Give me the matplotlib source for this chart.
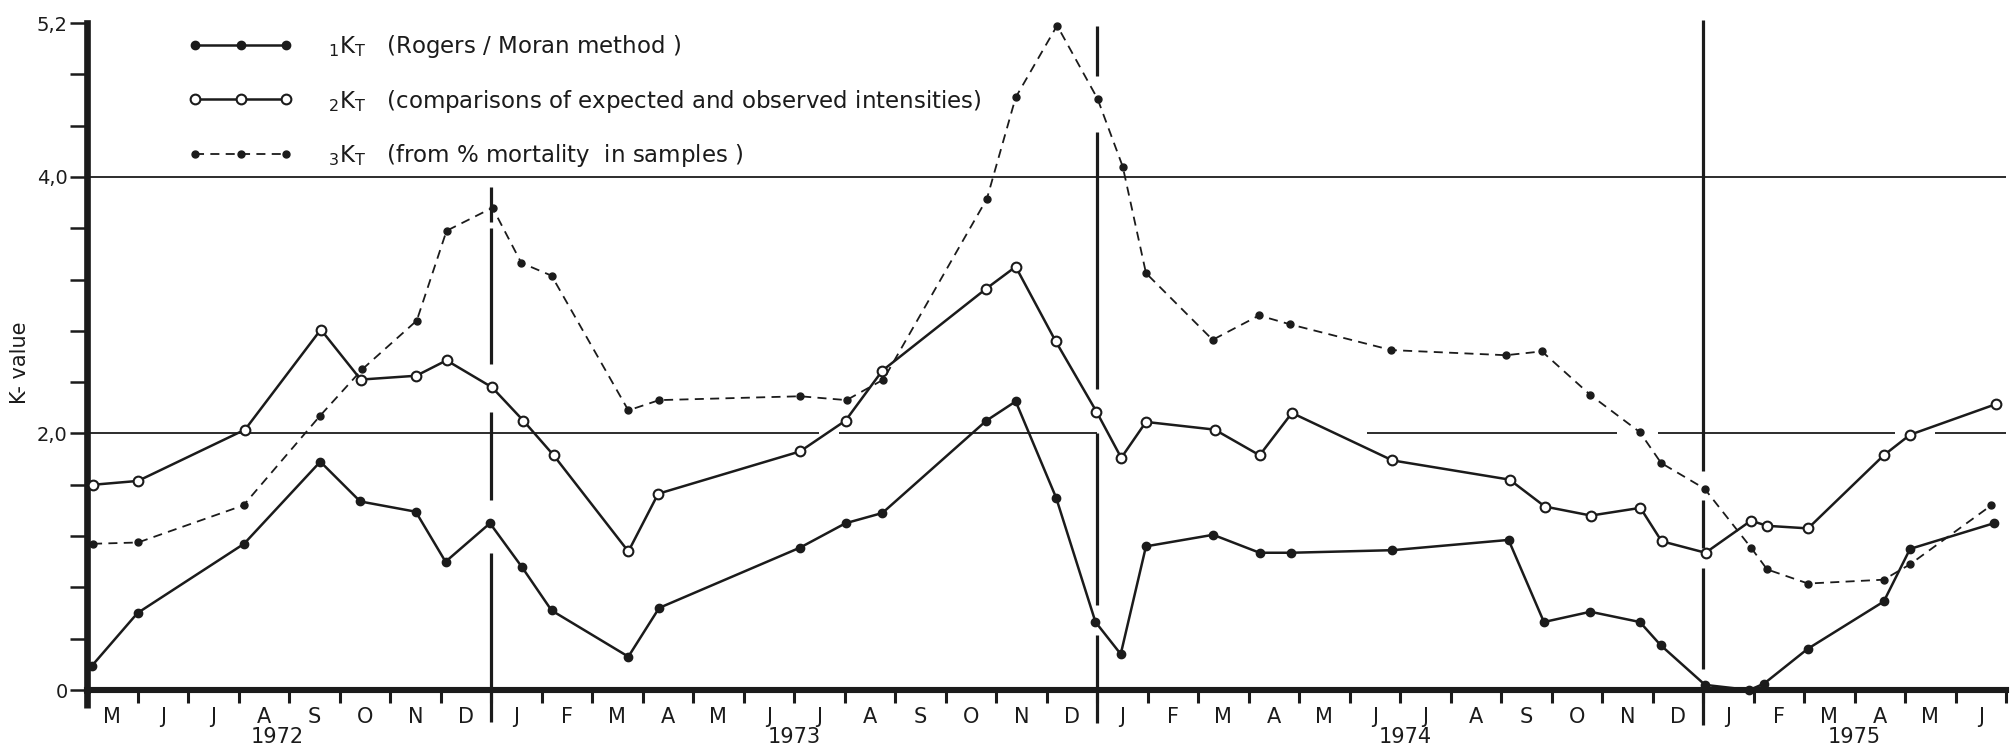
import numpy as np
import matplotlib
matplotlib.use("Agg")
import matplotlib.pyplot as plt

INK = "#1b1b1b"

# x = months counted from 1 May 1972 (0) to the end of June 1975 (38)
# 1K_T  (Rogers / Moran method), filled dots, solid line
k1_month = [0.10, 1.00, 3.11, 4.62, 5.41, 6.51, 7.10, 7.98, 8.61, 9.20, 10.72, 11.33,
            14.12, 15.02, 15.75, 17.81, 18.39, 19.19, 19.97, 20.47, 20.97, 22.30,
            23.22, 23.85, 25.85, 28.15, 28.85, 29.77, 30.75, 31.16, 32.04, 32.92,
            33.21, 34.07, 35.58, 36.10, 37.76]
k1_value = [0.19, 0.60, 1.14, 1.78, 1.47, 1.39, 1.00, 1.30, 0.96, 0.62, 0.26, 0.64,
            1.11, 1.30, 1.38, 2.10, 2.25, 1.50, 0.53, 0.28, 1.12, 1.21,
            1.07, 1.07, 1.09, 1.17, 0.53, 0.61, 0.53, 0.35, 0.04, 0.00,
            0.05, 0.32, 0.69, 1.10, 1.30]

# 2K_T  (comparisons of expected and observed intensities), open circles
k2_month = [0.12, 1.01, 3.13, 4.63, 5.42, 6.52, 7.12, 8.02, 8.64, 9.24, 10.72, 11.31,
            14.12, 15.02, 15.75, 17.81, 18.39, 19.18, 19.99, 20.48, 20.97, 22.33,
            23.22, 23.86, 25.85, 28.17, 28.87, 29.78, 30.76, 31.18, 32.05, 32.95,
            33.27, 34.08, 35.58, 36.10, 37.81]
k2_value = [1.60, 1.63, 2.03, 2.81, 2.42, 2.45, 2.57, 2.36, 2.10, 1.83, 1.08, 1.53,
            1.86, 2.10, 2.49, 3.13, 3.30, 2.72, 2.17, 1.81, 2.09, 2.03,
            1.83, 2.16, 1.79, 1.64, 1.43, 1.36, 1.42, 1.16, 1.07, 1.32,
            1.28, 1.26, 1.83, 1.99, 2.23]

# 3K_T  (from % mortality in samples), small dots, dashed line
k3_month = [0.12, 1.01, 3.10, 4.62, 5.45, 6.53, 7.12, 8.03, 8.60, 9.20, 10.72, 11.33,
            14.12, 15.04, 15.77, 17.82, 18.39, 19.21, 20.01, 20.51, 20.97, 22.29,
            23.21, 23.83, 25.83, 28.10, 28.81, 29.77, 30.75, 31.17, 32.03, 32.95,
            33.27, 34.08, 35.58, 36.10, 37.71]
k3_value = [1.14, 1.15, 1.44, 2.14, 2.50, 2.88, 3.58, 3.76, 3.33, 3.23, 2.18, 2.26,
            2.29, 2.26, 2.42, 3.83, 4.62, 5.18, 4.61, 4.08, 3.25, 2.73,
            2.92, 2.85, 2.65, 2.61, 2.64, 2.30, 2.01, 1.77, 1.57, 1.11,
            0.94, 0.83, 0.86, 0.98, 1.44]

month_letters = (["M", "J", "J", "A", "S", "O", "N", "D"]
                 + ["J", "F", "M", "A", "M", "J", "J", "A", "S", "O", "N", "D"] * 2
                 + ["J", "F", "M", "A", "M", "J"])
year_labels = ["1972", "1973", "1974", "1975"]
year_label_pos = [3.76, 14.0, 26.1, 35.0]
year_bounds = [8, 20, 32]

y_ticks = np.round(np.arange(0, 5.21, 0.4), 1)
y_tick_text = {0.0: "0", 2.0: "2,0", 4.0: "4,0", 5.2: "5,2"}

# the hand-drawn reference lines have breaks in them
year_line_spans = [
    [(3.65, 3.92), (2.54, 3.60), (1.48, 2.17), (-0.25, 1.07)],
    [(4.79, 5.18), (2.35, 4.35), (0.66, 2.00), (-0.26, 0.43)],
    [(1.71, 5.22), (1.11, 1.48), (0.16, 0.95), (-0.27, 0.0)],
]
line2_spans = [(0, 14.5), (14.9, 20.0), (25.35, 30.3), (31.1, 35.8), (36.6, 38)]

fig = plt.figure(figsize=(20.1, 7.5), dpi=100)
ax = fig.add_axes([87 / 2010, 60 / 750, 1919 / 2010, 667 / 750])
ax.set_xlim(0, 38)
ax.set_ylim(0, 5.2)

for side in ("top", "right"):
    ax.spines[side].set_visible(False)
ax.spines["left"].set_linewidth(4.8)
ax.spines["bottom"].set_linewidth(4.4)
ax.spines["left"].set_color(INK)
ax.spines["bottom"].set_color(INK)
# axis stub below zero
ax.plot([0, 0], [-0.14, 0], color=INK, lw=4.8, solid_capstyle="butt", clip_on=False)

# ticks: boundaries between months, letters in the middle of each month
ax.set_xticks(np.arange(1, 39))
ax.set_xticklabels([])
ax.set_xticks(np.arange(38) + 0.5, minor=True)
ax.set_xticklabels(month_letters, minor=True)
ax.tick_params(axis="x", which="major", length=9, width=2.2, color=INK, direction="out")
ax.tick_params(axis="x", which="minor", length=0, pad=12, labelsize=15, labelcolor=INK)

ax.set_yticks(y_ticks)
ax.set_yticklabels([y_tick_text.get(float(v), "") for v in y_ticks])
ax.tick_params(axis="y", length=12, width=1.8, color=INK, direction="out",
               pad=2, labelsize=14, labelcolor=INK)

for pos, lab in zip(year_label_pos, year_labels):
    ax.text(pos, -0.365, lab, ha="center", va="center", fontsize=15, color=INK)

# horizontal reference lines
ax.hlines(4.0, 0, 38, color=INK, lw=1.3)
for a, b in line2_spans:
    ax.hlines(2.0, a, b, color=INK, lw=1.3)

# year boundary lines
for x, spans in zip(year_bounds, year_line_spans):
    for lo, hi in spans:
        ax.vlines(x, lo, hi, color=INK, lw=2.3, clip_on=False)

ax.plot(k1_month, k1_value, "-", color=INK, lw=1.8, marker="o", ms=6,
        mfc=INK, mec=INK, clip_on=False, zorder=3,
        label=r"$_1$K$_\mathrm{T}$   (Rogers / Moran method )")
ax.plot(k2_month, k2_value, "-", color=INK, lw=1.8, marker="o", ms=7,
        mfc="white", mec=INK, mew=1.5, clip_on=False, zorder=4,
        label=r"$_2$K$_\mathrm{T}$   (comparisons of expected and observed intensities)")
ax.plot(k3_month, k3_value, "--", dashes=(5, 3.5), color=INK, lw=1.3, marker="o",
        ms=5, mfc=INK, mec=INK, clip_on=False, zorder=3,
        label=r"$_3$K$_\mathrm{T}$   (from % mortality  in samples )")

ax.legend(loc="upper left", bbox_to_anchor=(0.0526, 0.985), numpoints=3,
          frameon=False, fontsize=16.5, handlelength=4.6, handletextpad=1.5,
          labelspacing=1.2, borderaxespad=0, borderpad=0, labelcolor=INK)

fig.text(20 / 2010, 1 - 363 / 750, "K- value", rotation=90, ha="center",
         va="center", fontsize=15, color=INK)

fig.savefig("out.png", dpi=100, facecolor="white")
